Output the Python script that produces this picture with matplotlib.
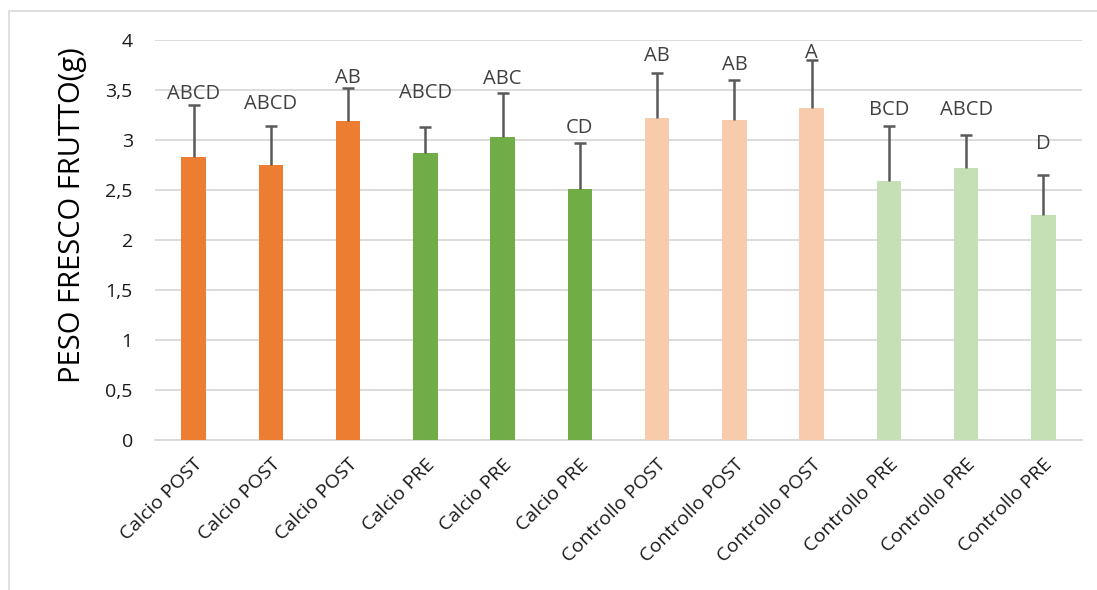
import matplotlib
matplotlib.use("Agg")
import matplotlib.pyplot as plt
from matplotlib.patches import Rectangle
import numpy as np

categories = ["Calcio POST", "Calcio POST", "Calcio POST",
              "Calcio PRE", "Calcio PRE", "Calcio PRE",
              "Controllo POST", "Controllo POST", "Controllo POST",
              "Controllo PRE", "Controllo PRE", "Controllo PRE"]
values = [2.83, 2.75, 3.19, 2.87, 3.03, 2.51, 3.22, 3.20, 3.32, 2.59, 2.72, 2.25]
errors = [0.52, 0.39, 0.33, 0.26, 0.44, 0.46, 0.45, 0.40, 0.48, 0.55, 0.33, 0.40]
letters = ["ABCD", "ABCD", "AB", "ABCD", "ABC", "CD", "AB", "AB", "A", "BCD", "ABCD", "D"]
letter_y = [3.46, 3.36, 3.62, 3.47, 3.61, 3.12, 3.84, 3.75, 3.87, 3.30, 3.30, 2.96]
colors = ["#ED7D31"] * 3 + ["#70AD47"] * 3 + ["#F8CBAD"] * 3 + ["#C5E0B4"] * 3
yticks = [0, 0.5, 1, 1.5, 2, 2.5, 3, 3.5, 4]
ytick_labels = ["0", "0,5", "1", "1,5", "2", "2,5", "3", "3,5", "4"]
ylabel = "PESO FRESCO FRUTTO(g)"

plt.rcParams['font.family'] = ['Open Sans', 'DejaVu Sans']

W, H = 1097, 590
fig = plt.figure(figsize=(W / 100, H / 100), dpi=100)
ax = fig.add_axes([155 / W, 1 - 440 / H, (1082 - 155) / W, 400 / H])

x = np.arange(len(categories))
vals = np.array(values)
errs = np.array(errors)
ax.bar(x, vals, width=0.32, color=colors, zorder=3)
# upper-only error bars (no cap at the bar top)
ax.vlines(x, vals, vals + errs, color='#595959', linewidth=1.8, zorder=4)
ax.plot(x, vals + errs, linestyle='none', marker='_', markersize=8,
        markeredgewidth=1.8, color='#595959', zorder=4)
for xi, t, ty in zip(x, letters, letter_y):
    ax.text(xi, ty, t, ha='center', va='center', fontsize=14.5, color='#404040', zorder=5)

ax.set_xlim(-0.5, len(categories) - 0.5)
ax.set_ylim(0, 4)
ax.set_yticks(yticks)
ax.set_yticklabels(ytick_labels, fontsize=14, color='#1a1a1a')
ax.set_xticks(x)
ax.set_xticklabels(categories, rotation=45, ha='right', va='top',
                   rotation_mode='anchor', fontsize=14, color='#1a1a1a')
ax.tick_params(axis='both', length=0)
ax.tick_params(axis='y', pad=16)
ax.tick_params(axis='x', pad=11)
ax.grid(axis='y', color='#D9D9D9', linewidth=1.3, zorder=0)
for s in ['top', 'right', 'left']:
    ax.spines[s].set_visible(False)
ax.spines['bottom'].set_color('#D9D9D9')
ax.spines['bottom'].set_linewidth(1.3)

fig.text(73 / W, 1 - 215 / H, ylabel, rotation=90, ha='center', va='center',
         fontsize=21, color='#000000')

fig.patches.append(Rectangle((9 / W, -0.1), 1.2, 1 - 11 / H + 0.1, transform=fig.transFigure,
                             fill=False, edgecolor='#D9D9D9', linewidth=1.2))

fig.savefig("out.png", dpi=100)
